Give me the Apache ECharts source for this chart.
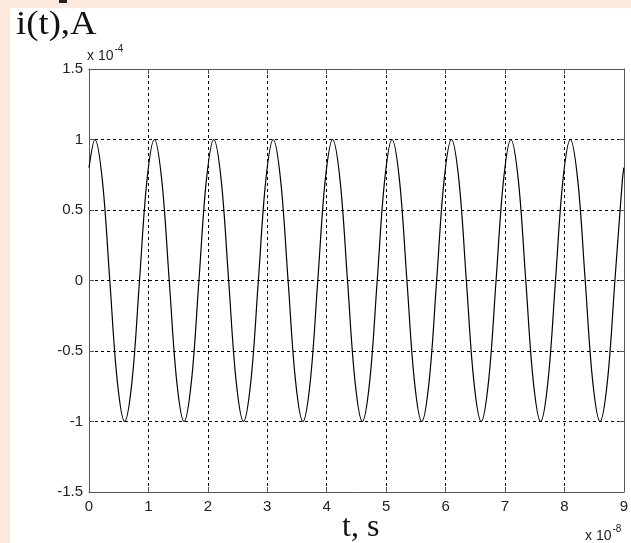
<!DOCTYPE html>
<html lang="en">
<head>
    <meta charset="UTF-8">
    <title>i(t)</title>
    <script src="https://cdn.jsdelivr.net/npm/echarts@6/dist/echarts.min.js"></script>
    <style type="text/css">
        *{margin: 0;padding: 0;border: none}
        html,body{width: 100%;height: 100%;overflow: hidden;background: #fce8dc}
        #main{width: 631px;height: 543px}
    </style>
</head>
<body>
<div id="main"></div>
<script type="text/javascript">
    // t values (x 1e-8 s)
    var tData = [0,
        0.1, 0.225, 0.35, 0.475, 0.6, 0.725, 0.85, 0.975,
        1.1, 1.225, 1.35, 1.475, 1.6, 1.725, 1.85, 1.975,
        2.1, 2.225, 2.35, 2.475, 2.6, 2.725, 2.85, 2.975,
        3.1, 3.225, 3.35, 3.475, 3.6, 3.725, 3.85, 3.975,
        4.1, 4.225, 4.35, 4.475, 4.6, 4.725, 4.85, 4.975,
        5.1, 5.225, 5.35, 5.475, 5.6, 5.725, 5.85, 5.975,
        6.1, 6.225, 6.35, 6.475, 6.6, 6.725, 6.85, 6.975,
        7.1, 7.225, 7.35, 7.475, 7.6, 7.725, 7.85, 7.975,
        8.1, 8.225, 8.35, 8.475, 8.6, 8.725, 8.85, 8.975,
        9];
    // i values (x 1e-4 A)
    var iData = [0.8,
        1, 0.71, 0, -0.71, -1, -0.71, 0, 0.71,
        1, 0.71, 0, -0.71, -1, -0.71, 0, 0.71,
        1, 0.71, 0, -0.71, -1, -0.71, 0, 0.71,
        1, 0.71, 0, -0.71, -1, -0.71, 0, 0.71,
        1, 0.71, 0, -0.71, -1, -0.71, 0, 0.71,
        1, 0.71, 0, -0.71, -1, -0.71, 0, 0.71,
        1, 0.71, 0, -0.71, -1, -0.71, 0, 0.71,
        1, 0.71, 0, -0.71, -1, -0.71, 0, 0.71,
        1, 0.71, 0, -0.71, -1, -0.71, 0, 0.71,
        0.8];
    var xTicks = [0, 1, 2, 3, 4, 5, 6, 7, 8, 9];
    var yTicks = [-1.5, -1, -0.5, 0, 0.5, 1, 1.5];

    var points = [];
    for (var k = 0; k < tData.length; k++) {
        points.push([tData[k], iData[k]]);
    }

    var myChart = echarts.init(document.getElementById('main'));
    var lineCol = '#555';
    var gridLine = {show: true, lineStyle: {color: '#000', type: [3, 3], width: 1}};
    var tickLab = {color: '#222', fontFamily: 'Liberation Sans', fontSize: 15};
    var expRich = {
        b: {fontFamily: 'Liberation Sans', fontSize: 14, fill: '#222', padding: [6, 0, 0, 0]},
        s: {fontFamily: 'Liberation Sans', fontSize: 10, fill: '#222', padding: [0, 0, 8, 1]}
    };

    var option = {
        backgroundColor: '#fce8dc',
        animation: false,
        graphic: [
            {type: 'rect', left: 10, top: 8, shape: {width: 621, height: 535}, style: {fill: '#fff'}, z: -10},
            {type: 'rect', left: 59, top: 0, shape: {width: 8, height: 3}, style: {fill: '#222'}},
            {type: 'text', left: 16, top: 8, scaleX: 1.08, style: {text: 'i(t),A', font: '34px "Liberation Serif"', fill: '#111'}},
            {type: 'text', left: 342, top: 512, style: {text: 't, s', font: '32px "Liberation Serif"', fill: '#111'}},
            {type: 'text', left: 87, top: 44, style: {text: '{b|x 10}{s|-4}', rich: expRich}},
            {type: 'text', left: 585, top: 524, style: {text: '{b|x 10}{s|-8}', rich: expRich}}
        ],
        grid: {left: 89, right: 3, top: 69, bottom: 51, show: false},
        xAxis: [
            {
                type: 'value', min: xTicks[0], max: xTicks[xTicks.length - 1], interval: 1,
                axisLine: {show: true, onZero: false, lineStyle: {color: lineCol}},
                axisTick: {show: true, inside: true, length: 5, lineStyle: {color: lineCol}},
                axisLabel: Object.assign({margin: 7}, tickLab),
                splitLine: gridLine
            },
            {
                type: 'value', position: 'top', min: xTicks[0], max: xTicks[xTicks.length - 1], interval: 1,
                axisLine: {show: true, onZero: false, lineStyle: {color: lineCol}},
                axisTick: {show: true, inside: true, length: 5, lineStyle: {color: lineCol}},
                axisLabel: {show: false},
                splitLine: {show: false}
            }
        ],
        yAxis: [
            {
                type: 'value', min: yTicks[0], max: yTicks[yTicks.length - 1], interval: 0.5,
                axisLine: {show: true, onZero: false, lineStyle: {color: lineCol}},
                axisTick: {show: true, inside: true, length: 5, lineStyle: {color: lineCol}},
                axisLabel: Object.assign({margin: 6}, tickLab),
                splitLine: gridLine
            },
            {
                type: 'value', position: 'right', min: yTicks[0], max: yTicks[yTicks.length - 1], interval: 0.5,
                axisLine: {show: true, onZero: false, lineStyle: {color: lineCol}},
                axisTick: {show: true, inside: true, length: 5, lineStyle: {color: lineCol}},
                axisLabel: {show: false},
                splitLine: {show: false}
            }
        ],
        series: [
            {
                name: 'i(t)',
                type: 'line',
                data: points,
                smooth: 0.35,
                showSymbol: false,
                lineStyle: {color: '#000', width: 1.2},
                z: 5
            }
        ]
    };
    myChart.setOption(option);
</script>
</body>
</html>
